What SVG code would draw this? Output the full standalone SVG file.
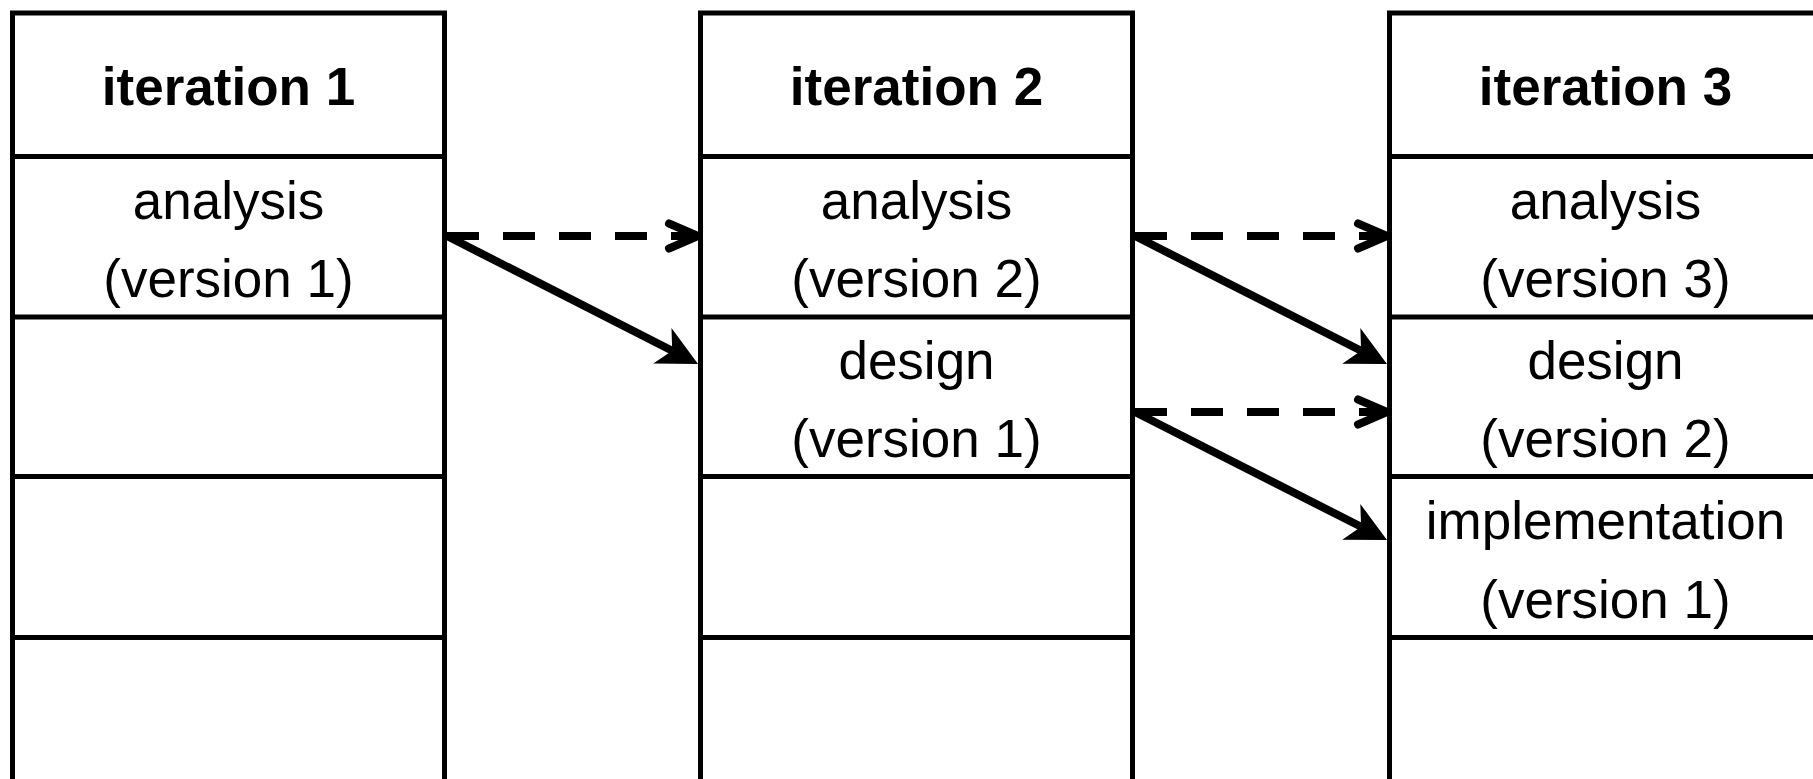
<svg xmlns="http://www.w3.org/2000/svg" width="1813" height="779" viewBox="0 0 1813 779">
  <style>
    .box { fill: #ffffff; stroke: #000000; stroke-width: 5; }
    .div { stroke: #000000; stroke-width: 5; }
    .title { font-family: "Liberation Sans", Arial, sans-serif; font-size: 53px; font-weight: bold; fill: #000000; text-anchor: middle; }
    .label { font-family: "Liberation Sans", Arial, sans-serif; font-size: 53px; fill: #000000; text-anchor: middle; }
    .flow { fill: none; stroke: #000000; stroke-width: 8; }
    .dashed { stroke-dasharray: 32 24; }
  </style>
  <defs>
    <marker id="head-solid" markerUnits="userSpaceOnUse" orient="auto" viewBox="-14 -23 46 46" markerWidth="46" markerHeight="46" refX="0" refY="0">
      <path d="M29,0 L-11,-20 L0,0 L-11,20 Z" fill="#000000" stroke="none"/>
    </marker>
    <marker id="head-open" markerUnits="userSpaceOnUse" orient="auto" viewBox="-36 -18 42 36" markerWidth="42" markerHeight="36" refX="0" refY="0">
      <path d="M-29,-12.5 L0,0 L-29,12.5" fill="none" stroke="#000000" stroke-width="8" stroke-linecap="round" stroke-linejoin="round"/>
    </marker>
  </defs>

  <rect width="1813" height="779" fill="#ffffff"/>

  <!-- iteration 1 -->
  <g id="iteration-1">
    <rect class="box" x="12.5" y="13" width="432" height="800"/>
    <line class="div" x1="12.5" y1="156.5" x2="444.5" y2="156.5"/>
    <line class="div" x1="12.5" y1="317" x2="444.5" y2="317"/>
    <line class="div" x1="12.5" y1="476.5" x2="444.5" y2="476.5"/>
    <line class="div" x1="12.5" y1="637.5" x2="444.5" y2="637.5"/>
    <text class="title" x="228.5" y="105">iteration 1</text>
    <text class="label" x="228.5" y="218.5">analysis</text>
    <text class="label" x="228.5" y="296.5">(version 1)</text>
  </g>

  <!-- iteration 2 -->
  <g id="iteration-2">
    <rect class="box" x="700.5" y="13" width="432" height="800"/>
    <line class="div" x1="700.5" y1="156.5" x2="1132.5" y2="156.5"/>
    <line class="div" x1="700.5" y1="317" x2="1132.5" y2="317"/>
    <line class="div" x1="700.5" y1="476.5" x2="1132.5" y2="476.5"/>
    <line class="div" x1="700.5" y1="637.5" x2="1132.5" y2="637.5"/>
    <text class="title" x="916.5" y="105">iteration 2</text>
    <text class="label" x="916.5" y="218.5">analysis</text>
    <text class="label" x="916.5" y="296.5">(version 2)</text>
    <text class="label" x="916.5" y="379">design</text>
    <text class="label" x="916.5" y="457">(version 1)</text>
  </g>

  <!-- iteration 3 -->
  <g id="iteration-3">
    <rect class="box" x="1389.5" y="13" width="432" height="800"/>
    <line class="div" x1="1389.5" y1="156.5" x2="1821.5" y2="156.5"/>
    <line class="div" x1="1389.5" y1="317" x2="1821.5" y2="317"/>
    <line class="div" x1="1389.5" y1="476.5" x2="1821.5" y2="476.5"/>
    <line class="div" x1="1389.5" y1="637.5" x2="1821.5" y2="637.5"/>
    <text class="title" x="1605.5" y="105">iteration 3</text>
    <text class="label" x="1605.5" y="218.5">analysis</text>
    <text class="label" x="1605.5" y="296.5">(version 3)</text>
    <text class="label" x="1605.5" y="379">design</text>
    <text class="label" x="1605.5" y="457">(version 2)</text>
    <text class="label" x="1605.5" y="539">implementation</text>
    <text class="label" x="1605.5" y="617.5">(version 1)</text>
  </g>

  <!-- connectors: dashed = carried over, solid = derived -->
  <g id="connectors">
    <path class="flow dashed" d="M447,236 L698,236" marker-end="url(#head-open)"/>
    <path class="flow" d="M447,236 L672.2,350.8" marker-end="url(#head-solid)"/>
    <path class="flow dashed" d="M1135,236 L1387,236" marker-end="url(#head-open)"/>
    <path class="flow" d="M1135,236 L1361.1,350.8" marker-end="url(#head-solid)"/>
    <path class="flow dashed" d="M1135,412 L1387,412" marker-end="url(#head-open)"/>
    <path class="flow" d="M1135,412 L1361.1,526.8" marker-end="url(#head-solid)"/>
  </g>
</svg>
